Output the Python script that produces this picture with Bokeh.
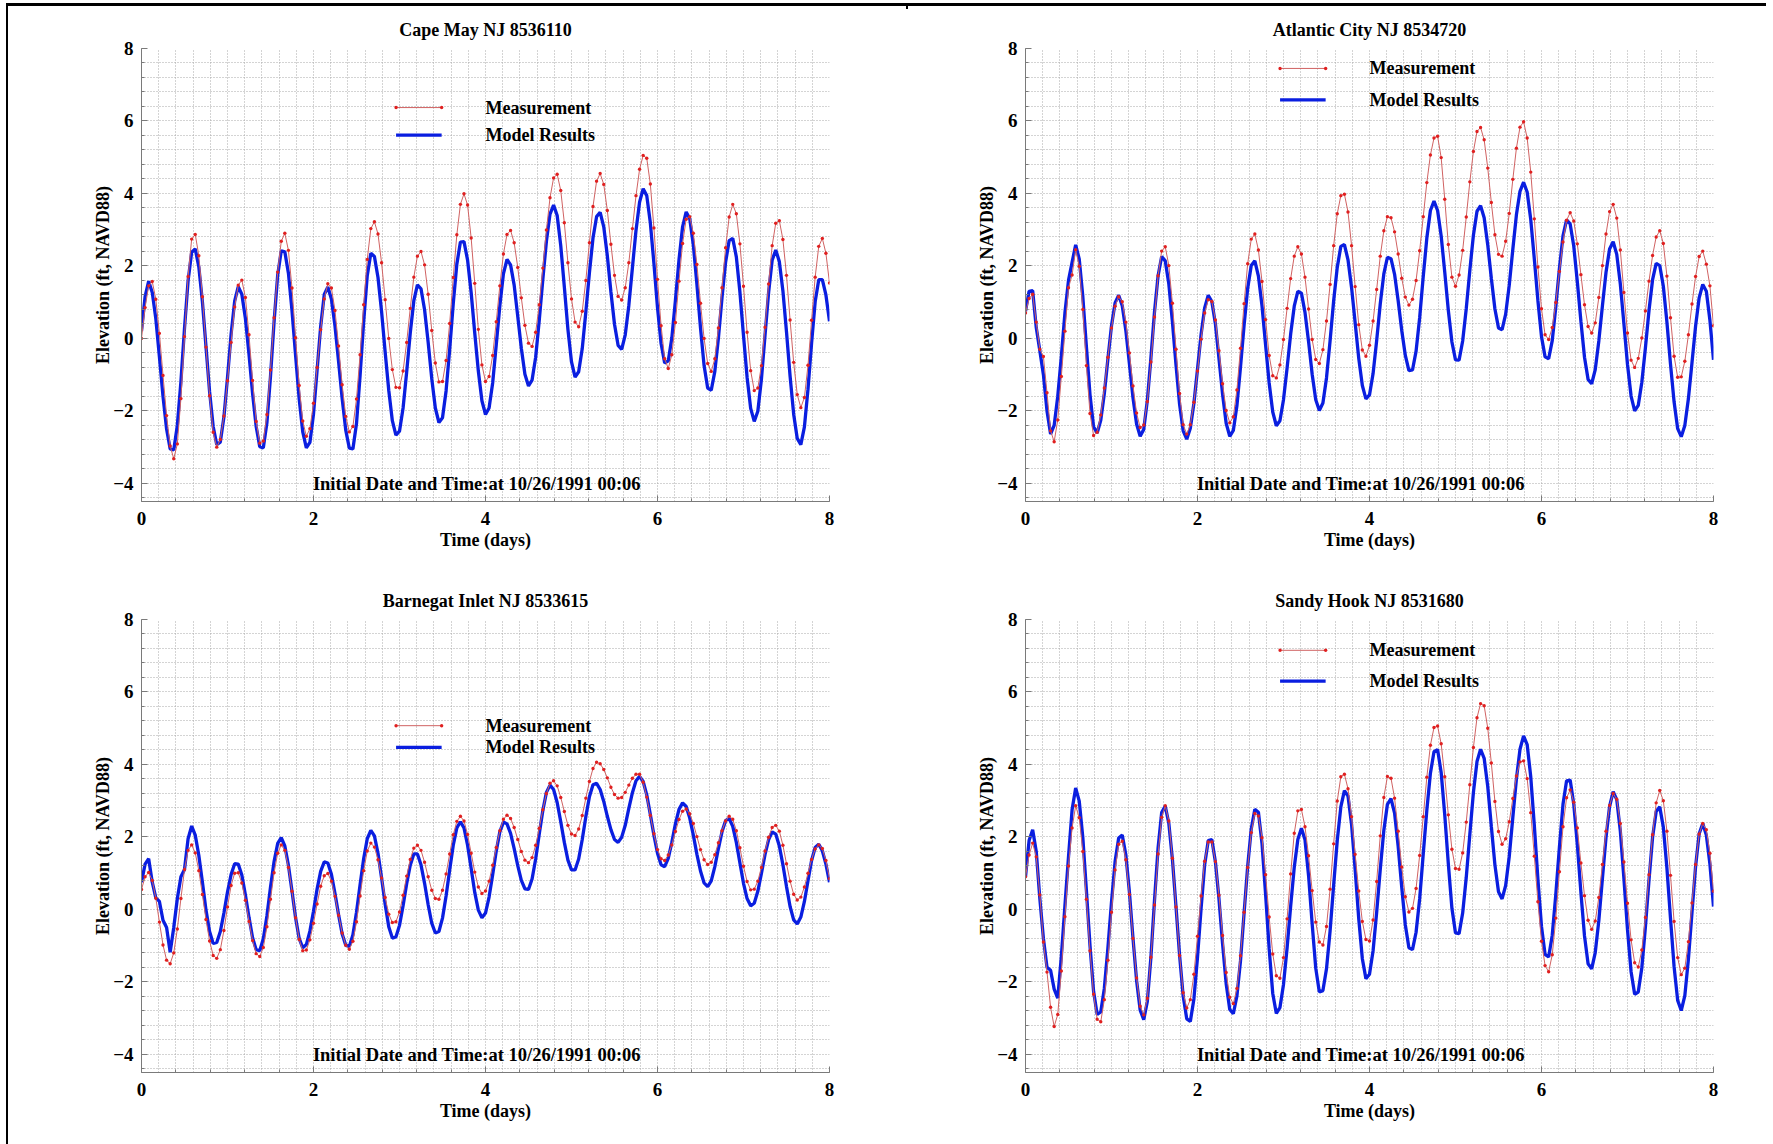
import re

from bokeh.core.properties import value
from bokeh.embed import file_html
from bokeh.layouts import column, row
from bokeh.models import FixedTicker, Range1d
from bokeh.plotting import figure
from bokeh.resources import INLINE

# Hourly water levels (ft, NAVD88), starting 10/26/1991 00:06
HOURS = list(range(193))

CAPE_MAY_MODEL = [
    0.20, 1.15, 1.58, 1.27, 0.54, -0.51, -1.60, -2.50, -3.05, -3.08,
    -2.40, -1.19, 0.28, 1.59, 2.38, 2.47, 1.97, 1.01, -0.23, -1.47,
    -2.43, -2.93, -2.86, -2.17, -1.08, 0.11, 1.03, 1.43, 1.22, 0.55,
    -0.44, -1.52, -2.43, -2.99, -3.02, -2.33, -1.05, 0.46, 1.74, 2.42,
    2.39, 1.80, 0.77, -0.47, -1.67, -2.58, -3.02, -2.87, -2.09, -0.88,
    0.33, 1.21, 1.42, 1.09, 0.34, -0.64, -1.66, -2.53, -3.03, -3.05,
    -2.35, -1.03, 0.46, 1.73, 2.35, 2.26, 1.68, 0.74, -0.38, -1.43,
    -2.27, -2.67, -2.56, -1.92, -0.93, 0.15, 1.04, 1.48, 1.37, 0.79,
    -0.11, -1.11, -1.92, -2.32, -2.19, -1.45, -0.31, 0.96, 2.05, 2.66,
    2.67, 2.16, 1.26, 0.15, -0.90, -1.72, -2.10, -1.92, -1.23, -0.18,
    0.90, 1.78, 2.18, 2.03, 1.47, 0.61, -0.27, -0.99, -1.31, -1.15,
    -0.52, 0.50, 1.63, 2.68, 3.43, 3.68, 3.39, 2.56, 1.42, 0.25,
    -0.65, -1.07, -0.92, -0.28, 0.73, 1.81, 2.77, 3.36, 3.48, 3.08,
    2.28, 1.28, 0.39, -0.19, -0.30, 0.10, 0.91, 1.95, 2.98, 3.76,
    4.13, 3.94, 3.19, 2.07, 0.85, -0.14, -0.68, -0.62, 0.01, 1.05,
    2.17, 3.08, 3.49, 3.30, 2.58, 1.49, 0.29, -0.75, -1.37, -1.43,
    -0.91, 0.01, 1.12, 2.10, 2.70, 2.76, 2.25, 1.28, 0.08, -1.07,
    -1.93, -2.29, -2.01, -1.13, 0.08, 1.26, 2.16, 2.44, 2.12, 1.31,
    0.18, -1.04, -2.09, -2.76, -2.93, -2.44, -1.40, -0.13, 1.01, 1.62,
    1.62, 1.20, 0.47,
]

CAPE_MAY_MEAS = [
    0.00, 0.85, 1.45, 1.57, 1.08, 0.14, -1.02, -2.13, -2.97, -3.32,
    -2.91, -1.66, 0.05, 1.71, 2.74, 2.87, 2.28, 1.15, -0.24, -1.58,
    -2.59, -3.00, -2.79, -2.14, -1.17, -0.11, 0.87, 1.47, 1.61, 1.13,
    0.10, -1.16, -2.29, -2.89, -2.83, -2.10, -0.87, 0.57, 1.83, 2.68,
    2.90, 2.43, 1.39, 0.02, -1.30, -2.28, -2.70, -2.49, -1.79, -0.80,
    0.24, 1.09, 1.51, 1.39, 0.77, -0.21, -1.28, -2.15, -2.58, -2.43,
    -1.67, -0.45, 0.93, 2.18, 3.03, 3.22, 2.88, 2.09, 1.07, 0.00,
    -0.86, -1.35, -1.36, -0.90, -0.11, 0.83, 1.69, 2.27, 2.40, 2.03,
    1.22, 0.22, -0.68, -1.20, -1.19, -0.61, 0.41, 1.68, 2.86, 3.70,
    3.99, 3.68, 2.77, 1.52, 0.25, -0.73, -1.19, -1.05, -0.47, 0.46,
    1.45, 2.33, 2.87, 2.98, 2.64, 1.96, 1.12, 0.36, -0.13, -0.22,
    0.17, 0.93, 1.94, 2.99, 3.88, 4.43, 4.53, 4.08, 3.19, 2.09,
    1.09, 0.45, 0.32, 0.75, 1.60, 2.64, 3.64, 4.34, 4.55, 4.25,
    3.53, 2.60, 1.74, 1.16, 1.06, 1.40, 2.09, 3.03, 3.94, 4.67,
    5.05, 4.97, 4.26, 3.05, 1.63, 0.35, -0.56, -0.83, -0.45, 0.44,
    1.58, 2.62, 3.29, 3.36, 2.90, 2.04, 0.97, 0.00, -0.69, -0.91,
    -0.56, 0.29, 1.40, 2.50, 3.35, 3.70, 3.44, 2.61, 1.44, 0.17,
    -0.89, -1.44, -1.37, -0.75, 0.31, 1.50, 2.56, 3.18, 3.25, 2.73,
    1.74, 0.51, -0.66, -1.55, -1.91, -1.63, -0.74, 0.50, 1.69, 2.54,
    2.76, 2.35, 1.53,
]

ATLANTIC_CITY_MODEL = [
    0.75, 1.30, 1.32, 0.30, -0.34, -1.00, -2.00, -2.64, -2.40, -1.60,
    -0.50, 0.70, 1.60, 2.10, 2.58, 2.19, 1.15, -0.23, -1.55, -2.44,
    -2.61, -2.26, -1.52, -0.56, 0.35, 0.98, 1.19, 0.90, 0.22, -0.70,
    -1.64, -2.36, -2.70, -2.51, -1.71, -0.54, 0.73, 1.73, 2.26, 2.14,
    1.50, 0.46, -0.73, -1.82, -2.55, -2.78, -2.48, -1.79, -0.85, 0.11,
    0.84, 1.19, 1.02, 0.40, -0.56, -1.54, -2.34, -2.70, -2.54, -1.86,
    -0.79, 0.36, 1.38, 2.01, 2.14, 1.72, 0.90, -0.18, -1.23, -2.03,
    -2.41, -2.27, -1.69, -0.82, 0.12, 0.89, 1.30, 1.25, 0.72, -0.09,
    -0.99, -1.69, -1.99, -1.78, -1.09, -0.07, 1.04, 1.96, 2.54, 2.59,
    2.17, 1.40, 0.43, -0.55, -1.30, -1.67, -1.56, -0.97, -0.06, 0.95,
    1.78, 2.24, 2.20, 1.77, 1.04, 0.22, -0.47, -0.89, -0.87, -0.35,
    0.57, 1.71, 2.77, 3.53, 3.79, 3.53, 2.83, 1.83, 0.77, -0.10,
    -0.59, -0.60, -0.07, 0.82, 1.88, 2.85, 3.51, 3.66, 3.33, 2.58,
    1.66, 0.81, 0.29, 0.24, 0.67, 1.47, 2.46, 3.41, 4.06, 4.31,
    4.04, 3.28, 2.19, 1.04, 0.05, -0.51, -0.56, -0.06, 0.88, 1.93,
    2.83, 3.27, 3.16, 2.55, 1.56, 0.47, -0.52, -1.13, -1.25, -0.86,
    -0.07, 0.90, 1.82, 2.47, 2.67, 2.32, 1.50, 0.40, -0.72, -1.59,
    -2.00, -1.85, -1.21, -0.26, 0.77, 1.62, 2.07, 2.01, 1.44, 0.45,
    -0.71, -1.75, -2.49, -2.71, -2.40, -1.66, -0.67, 0.34, 1.12, 1.49,
    1.30, 0.50, -0.59,
]

ATLANTIC_CITY_MEAS = [
    0.70, 1.10, 1.22, 0.45, -0.30, -0.50, -1.50, -2.55, -2.85, -2.25,
    -1.05, 0.20, 1.40, 1.75, 2.45, 1.99, 0.80, -0.75, -2.07, -2.68,
    -2.59, -2.11, -1.37, -0.52, 0.29, 0.89, 1.15, 1.01, 0.45, -0.40,
    -1.31, -2.06, -2.46, -2.39, -1.74, -0.65, 0.59, 1.73, 2.41, 2.53,
    2.01, 0.97, -0.30, -1.52, -2.38, -2.64, -2.38, -1.76, -0.90, -0.02,
    0.70, 1.07, 1.02, 0.51, -0.34, -1.25, -1.99, -2.33, -2.16, -1.42,
    -0.27, 0.96, 2.06, 2.74, 2.88, 2.44, 1.57, 0.52, -0.47, -1.03,
    -1.09, -0.73, -0.03, 0.83, 1.65, 2.27, 2.53, 2.33, 1.69, 0.81,
    -0.03, -0.58, -0.69, -0.31, 0.48, 1.49, 2.56, 3.44, 3.94, 3.98,
    3.49, 2.56, 1.43, 0.38, -0.32, -0.49, -0.19, 0.48, 1.35, 2.27,
    2.97, 3.36, 3.33, 2.94, 2.33, 1.66, 1.14, 0.92, 1.08, 1.60,
    2.42, 3.36, 4.30, 5.06, 5.53, 5.58, 4.99, 3.84, 2.59, 1.69,
    1.44, 1.75, 2.43, 3.35, 4.32, 5.16, 5.71, 5.82, 5.48, 4.70,
    3.75, 2.86, 2.32, 2.27, 2.68, 3.45, 4.39, 5.25, 5.83, 5.98,
    5.53, 4.59, 3.30, 1.97, 0.82, 0.10, -0.03, 0.30, 0.99, 1.85,
    2.66, 3.26, 3.47, 3.24, 2.61, 1.76, 0.93, 0.33, 0.15, 0.43,
    1.13, 2.01, 2.88, 3.50, 3.70, 3.32, 2.44, 1.27, 0.15, -0.60,
    -0.80, -0.55, 0.01, 0.76, 1.58, 2.29, 2.80, 2.97, 2.62, 1.72,
    0.57, -0.49, -1.07, -1.06, -0.63, 0.10, 0.95, 1.71, 2.26, 2.41,
    2.05, 1.45, 0.35,
]

BARNEGAT_MODEL = [
    0.75, 1.25, 1.40, 0.75, 0.32, 0.22, -0.30, -0.50, -1.18, -0.50,
    0.30, 0.90, 1.10, 1.95, 2.30, 2.05, 1.49, 0.75, -0.02, -0.61,
    -0.94, -0.91, -0.61, -0.10, 0.48, 0.96, 1.26, 1.25, 0.95, 0.40,
    -0.22, -0.78, -1.11, -1.14, -0.81, -0.18, 0.61, 1.32, 1.82, 1.98,
    1.75, 1.22, 0.50, -0.23, -0.80, -1.06, -0.97, -0.60, -0.05, 0.56,
    1.05, 1.31, 1.28, 0.97, 0.44, -0.15, -0.68, -0.99, -1.02, -0.70,
    -0.08, 0.68, 1.40, 1.95, 2.18, 2.03, 1.55, 0.87, 0.14, -0.48,
    -0.79, -0.76, -0.44, 0.10, 0.71, 1.22, 1.53, 1.53, 1.23, 0.72,
    0.13, -0.38, -0.65, -0.61, -0.24, 0.37, 1.09, 1.77, 2.25, 2.42,
    2.25, 1.77, 1.13, 0.47, -0.02, -0.23, -0.10, 0.34, 0.96, 1.61,
    2.14, 2.41, 2.36, 2.10, 1.68, 1.21, 0.80, 0.57, 0.55, 0.84,
    1.39, 2.08, 2.73, 3.23, 3.43, 3.31, 2.95, 2.42, 1.85, 1.36,
    1.09, 1.09, 1.39, 1.93, 2.56, 3.11, 3.44, 3.48, 3.31, 2.98,
    2.57, 2.20, 1.93, 1.85, 1.99, 2.32, 2.79, 3.22, 3.55, 3.67,
    3.53, 3.16, 2.62, 2.05, 1.55, 1.23, 1.18, 1.41, 1.85, 2.36,
    2.76, 2.94, 2.84, 2.52, 2.05, 1.52, 1.06, 0.73, 0.63, 0.79,
    1.18, 1.68, 2.14, 2.45, 2.51, 2.29, 1.85, 1.28, 0.72, 0.30,
    0.10, 0.17, 0.50, 0.99, 1.51, 1.92, 2.14, 2.08, 1.75, 1.23,
    0.63, 0.08, -0.29, -0.40, -0.21, 0.22, 0.79, 1.35, 1.71, 1.80,
    1.62, 1.25, 0.75,
]

BARNEGAT_MEAS = [
    0.55, 0.90, 1.02, 0.80, 0.31, -0.35, -0.98, -1.40, -1.50, -1.20,
    -0.54, 0.30, 1.10, 1.63, 1.78, 1.56, 1.07, 0.41, -0.28, -0.87,
    -1.27, -1.35, -1.11, -0.58, 0.07, 0.66, 1.00, 1.01, 0.73, 0.25,
    -0.33, -0.86, -1.22, -1.30, -1.05, -0.48, 0.28, 1.01, 1.55, 1.78,
    1.63, 1.16, 0.50, -0.23, -0.83, -1.14, -1.12, -0.84, -0.38, 0.15,
    0.64, 0.93, 0.99, 0.78, 0.36, -0.16, -0.65, -0.99, -1.10, -0.88,
    -0.34, 0.37, 1.07, 1.61, 1.83, 1.72, 1.37, 0.87, 0.33, -0.13,
    -0.36, -0.34, -0.07, 0.39, 0.92, 1.38, 1.69, 1.77, 1.63, 1.30,
    0.90, 0.53, 0.30, 0.28, 0.53, 0.98, 1.53, 2.06, 2.43, 2.57,
    2.44, 2.07, 1.55, 1.03, 0.62, 0.44, 0.51, 0.78, 1.22, 1.71,
    2.17, 2.49, 2.60, 2.51, 2.26, 1.93, 1.60, 1.36, 1.29, 1.43,
    1.77, 2.24, 2.75, 3.20, 3.48, 3.55, 3.41, 3.09, 2.70, 2.32,
    2.08, 2.04, 2.22, 2.59, 3.07, 3.53, 3.89, 4.06, 4.02, 3.86,
    3.63, 3.37, 3.17, 3.07, 3.09, 3.23, 3.43, 3.62, 3.73, 3.73,
    3.51, 3.10, 2.59, 2.09, 1.65, 1.40, 1.35, 1.50, 1.78, 2.15,
    2.48, 2.71, 2.77, 2.64, 2.37, 2.01, 1.65, 1.37, 1.24, 1.30,
    1.51, 1.84, 2.17, 2.44, 2.57, 2.49, 2.17, 1.70, 1.19, 0.77,
    0.54, 0.56, 0.78, 1.16, 1.61, 1.99, 2.26, 2.32, 2.16, 1.77,
    1.26, 0.78, 0.42, 0.26, 0.34, 0.62, 1.00, 1.38, 1.67, 1.78,
    1.68, 1.35, 0.85,
]

SANDY_HOOK_MODEL = [
    0.90, 1.90, 2.20, 1.60, 0.30, -0.80, -1.60, -1.68, -2.20, -2.45,
    -1.30, 0.10, 1.45, 2.75, 3.35, 2.99, 1.98, 0.52, -1.00, -2.26,
    -2.90, -2.83, -2.18, -1.06, 0.20, 1.32, 1.97, 2.05, 1.51, 0.48,
    -0.80, -1.96, -2.78, -3.04, -2.54, -1.32, 0.25, 1.70, 2.67, 2.85,
    2.37, 1.38, 0.08, -1.27, -2.39, -3.02, -3.09, -2.47, -1.32, 0.02,
    1.23, 1.90, 1.93, 1.31, 0.28, -0.95, -2.05, -2.76, -2.88, -2.39,
    -1.42, -0.10, 1.19, 2.22, 2.76, 2.68, 1.82, 0.42, -1.09, -2.32,
    -2.87, -2.71, -2.07, -1.07, 0.09, 1.16, 1.93, 2.24, 1.92, 0.93,
    -0.40, -1.62, -2.28, -2.24, -1.64, -0.60, 0.68, 1.90, 2.83, 3.28,
    3.13, 2.34, 1.10, -0.26, -1.36, -1.91, -1.79, -1.14, -0.08, 1.10,
    2.18, 2.90, 3.06, 2.66, 1.74, 0.61, -0.43, -1.06, -1.11, -0.63,
    0.29, 1.53, 2.74, 3.76, 4.35, 4.41, 3.78, 2.61, 1.26, 0.03,
    -0.65, -0.67, -0.10, 0.88, 2.07, 3.23, 4.08, 4.42, 4.17, 3.39,
    2.29, 1.23, 0.49, 0.29, 0.66, 1.46, 2.54, 3.60, 4.42, 4.79,
    4.55, 3.66, 2.31, 0.83, -0.47, -1.24, -1.31, -0.71, 0.42, 1.72,
    2.90, 3.55, 3.57, 2.91, 1.79, 0.46, -0.73, -1.50, -1.64, -1.19,
    -0.31, 0.85, 1.98, 2.84, 3.25, 3.03, 2.16, 0.85, -0.56, -1.72,
    -2.34, -2.28, -1.61, -0.48, 0.81, 1.99, 2.70, 2.83, 2.27, 1.14,
    -0.25, -1.58, -2.51, -2.79, -2.38, -1.37, -0.08, 1.18, 2.09, 2.37,
    2.05, 1.25, 0.08,
]

SANDY_HOOK_MEAS = [
    0.90, 1.50, 1.83, 1.45, 0.40, -0.90, -1.73, -2.70, -3.23, -2.90,
    -1.70, -0.20, 1.20, 2.25, 2.86, 2.53, 1.60, 0.28, -1.14, -2.34,
    -3.03, -3.10, -2.49, -1.40, -0.08, 1.09, 1.80, 1.88, 1.37, 0.41,
    -0.80, -1.89, -2.67, -2.91, -2.45, -1.32, 0.12, 1.53, 2.54, 2.86,
    2.44, 1.41, 0.07, -1.27, -2.30, -2.72, -2.49, -1.79, -0.74, 0.37,
    1.33, 1.86, 1.86, 1.32, 0.39, -0.72, -1.74, -2.42, -2.60, -2.18,
    -1.28, -0.08, 1.16, 2.12, 2.65, 2.58, 1.98, 0.96, -0.21, -1.23,
    -1.83, -1.90, -1.33, -0.26, 0.98, 2.10, 2.72, 2.76, 2.28, 1.48,
    0.52, -0.35, -0.90, -0.98, -0.47, 0.56, 1.81, 2.99, 3.66, 3.73,
    3.33, 2.56, 1.52, 0.51, -0.33, -0.83, -0.87, -0.29, 0.77, 2.03,
    3.09, 3.67, 3.62, 3.07, 2.16, 1.17, 0.35, -0.07, 0.03, 0.58,
    1.49, 2.56, 3.65, 4.53, 5.02, 5.06, 4.57, 3.66, 2.61, 1.66,
    1.13, 1.11, 1.56, 2.41, 3.44, 4.47, 5.29, 5.68, 5.62, 5.00,
    4.04, 2.98, 2.15, 1.80, 1.95, 2.42, 3.06, 3.68, 4.07, 4.10,
    3.61, 2.67, 1.47, 0.21, -0.88, -1.55, -1.72, -1.25, -0.24, 1.04,
    2.28, 3.08, 3.30, 2.96, 2.25, 1.28, 0.38, -0.30, -0.55, -0.32,
    0.33, 1.24, 2.16, 2.87, 3.20, 3.04, 2.37, 1.31, 0.17, -0.84,
    -1.47, -1.59, -1.12, -0.22, 0.96, 2.06, 2.94, 3.28, 3.00, 2.16,
    0.94, -0.33, -1.33, -1.80, -1.62, -0.89, 0.18, 1.24, 2.08, 2.37,
    2.20, 1.55, 0.50,
]

STATIONS = [
    "Cape May NJ 8536110",
    "Atlantic City NJ 8534720",
    "Barnegat Inlet NJ 8533615",
    "Sandy Hook NJ 8531680",
]
X_TICKS = [0, 2, 4, 6, 8]
Y_TICKS = [-4, -2, 0, 2, 4, 6, 8]
START_NOTE = "Initial Date and Time:at 10/26/1991 00:06"
SERIES_NAMES = ["Measurement", "Model Results"]

DAYS = [h / 24 for h in HOURS]

FONT = "Liberation Serif"
FONT_SIZE = "18px"
TICK_FONT_SIZE = "19px"
MODEL_COLOR = "#0a1ee0"
MEAS_LINE = "#d06262"
MEAS_DOT = "#e02020"
AXIS_GRAY = "#7a7a7a"
GRID_GRAY = "#a8a8a8"


def make_panel(title, model, meas, legend_y, height, top, bottom):
    p = figure(
        width=884, height=height,
        x_range=Range1d(0, 8), y_range=Range1d(-4.5, 8),
        output_backend="svg", toolbar_location=None,
        min_border_left=141, min_border_right=55,
        min_border_top=top, min_border_bottom=bottom,
    )
    p.outline_line_color = None
    p.background_fill_color = "white"
    p.border_fill_color = "white"

    p.title.text = title
    p.title.align = "center"
    p.title.text_font = FONT
    p.title.text_font_size = FONT_SIZE
    p.title.text_font_style = "bold"
    p.title.text_color = "black"
    p.title.standoff = 17

    # dotted grid every 0.2 day / 0.4 ft
    p.xgrid.ticker = FixedTicker(ticks=[round(0.2 * i, 2) for i in range(41)])
    p.ygrid.ticker = FixedTicker(ticks=[round(-4.4 + 0.4 * i, 2) for i in range(32)])
    for g in (p.xgrid, p.ygrid):
        g.grid_line_color = GRID_GRAY
        g.grid_line_dash = "1 2"
        g.grid_line_width = 1

    p.xaxis.ticker = FixedTicker(ticks=X_TICKS,
                                 minor_ticks=[round(0.4 * i, 2) for i in range(21)])
    p.yaxis.ticker = FixedTicker(ticks=Y_TICKS,
                                 minor_ticks=[round(-4.4 + 0.4 * i, 2) for i in range(32)])
    p.xaxis.axis_label = "Time (days)"
    p.yaxis.axis_label = "Elevation (ft, NAVD88)"
    for ax in (p.xaxis, p.yaxis):
        ax.axis_line_color = AXIS_GRAY
        ax.major_tick_line_color = AXIS_GRAY
        ax.minor_tick_line_color = AXIS_GRAY
        ax.major_tick_in = 6
        ax.major_tick_out = 0
        ax.minor_tick_in = 3
        ax.minor_tick_out = 0
        ax.major_label_text_font = FONT
        ax.major_label_text_font_size = TICK_FONT_SIZE
        ax.major_label_text_font_style = "bold"
        ax.major_label_text_color = "black"
        ax.axis_label_text_font = FONT
        ax.axis_label_text_font_size = FONT_SIZE
        ax.axis_label_text_font_style = "bold"
        ax.axis_label_text_color = "black"
    p.xaxis.major_label_standoff = 10
    p.yaxis.major_label_standoff = 8
    p.xaxis.axis_label_standoff = 2
    p.yaxis.axis_label_standoff = -3

    # model results under the measurements
    p.line(DAYS, model, line_color=MODEL_COLOR, line_width=3.3)
    p.line(DAYS, meas, line_color=MEAS_LINE, line_width=1.0)
    p.scatter(DAYS, meas, size=3.4, marker="circle",
              fill_color=MEAS_DOT, line_color=None)

    # legend drawn inside the axes
    y_meas, y_model = legend_y
    p.line([2.96, 3.49], [y_meas, y_meas], line_color=MEAS_LINE, line_width=1.0)
    p.scatter([2.96, 3.49], [y_meas, y_meas], size=3.4, marker="circle",
              fill_color=MEAS_DOT, line_color=None)
    p.line([2.96, 3.49], [y_model, y_model], line_color=MODEL_COLOR, line_width=3.3)
    p.text(x=[4.0, 4.0], y=[y_meas, y_model], text=SERIES_NAMES,
           text_font=value(FONT), text_font_size=FONT_SIZE, text_font_style="bold",
           text_color="black", text_baseline="middle", text_align="left")

    p.text(x=[3.9], y=[-4.03], text=[START_NOTE],
           text_font=value(FONT), text_font_size="18.5px", text_font_style="bold",
           text_color="black", text_baseline="middle", text_align="center")
    return p


for series in (CAPE_MAY_MODEL, CAPE_MAY_MEAS, ATLANTIC_CITY_MODEL, ATLANTIC_CITY_MEAS,
               BARNEGAT_MODEL, BARNEGAT_MEAS, SANDY_HOOK_MODEL, SANDY_HOOK_MEAS):
    assert len(series) == len(HOURS), len(series)

p1 = make_panel(STATIONS[0], CAPE_MAY_MODEL, CAPE_MAY_MEAS, (6.37, 5.61), 571, 48, 70)
p2 = make_panel(STATIONS[1], ATLANTIC_CITY_MODEL, ATLANTIC_CITY_MEAS, (7.45, 6.58), 571, 48, 70)
p3 = make_panel(STATIONS[2], BARNEGAT_MODEL, BARNEGAT_MEAS, (5.07, 4.47), 573, 48, 72)
p4 = make_panel(STATIONS[3], SANDY_HOOK_MODEL, SANDY_HOOK_MEAS, (7.15, 6.30), 573, 48, 72)

page = column(row(p1, p2), row(p3, p4))

html = file_html(page, INLINE, title="NJ tide stations: measurement vs model")

# page frame: heavy rule along the top, thin rule down the left edge
frame_lines = (
    '<div style="position:fixed;left:6px;top:3px;width:1760px;height:3px;'
    'background:#000;z-index:99999;pointer-events:none"></div>'
    '<div style="position:fixed;left:6px;top:3px;width:2px;height:1141px;'
    'background:#000;z-index:99999;pointer-events:none"></div>'
    '<div style="position:fixed;left:906px;top:5px;width:2px;height:4px;'
    'background:#000;z-index:99999;pointer-events:none"></div>'
)
html = re.sub(r"<body([^>]*)>",
              lambda m: '<body style="margin:0;padding:0;background:#fff">',
              html, count=1)
html = html.replace("</body>", frame_lines + "</body>", 1)
open("out.html", "w").write(html)
